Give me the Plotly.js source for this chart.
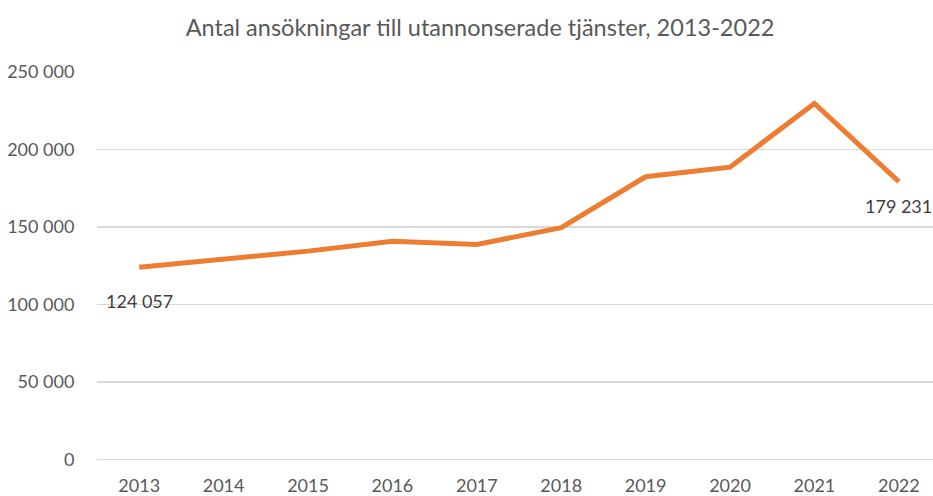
<!DOCTYPE html>
<html>
<head>
<meta charset="utf-8">
<script src="https://cdn.plot.ly/plotly-3.0.1.min.js"></script>
<style>html,body{margin:0;padding:0;background:#fff;}#chart{width:933px;height:496px;}</style>
</head>
<body>
<div id="chart"></div>
<script>
const years = ['2013','2014','2015','2016','2017','2018','2019','2020','2021','2022'];
const applications = [124057, 129000, 134400, 140800, 138700, 149500, 182400, 188600, 229700, 179231];
const yTickValues = [0, 50000, 100000, 150000, 200000, 250000];
const yTickLabels = ['0', '50 000', '100 000', '150 000', '200 000', '250 000'];
const titleText = 'Antal ansökningar till utannonserade tjänster, 2013-2022';
const labelTexts = ['124 057', '179 231'];

const FONT = 'Lato, "Open Sans", sans-serif';

const trace = {
  x: years,
  y: applications,
  type: 'scatter',
  mode: 'lines',
  line: {color: '#ED7D31', width: 5, shape: 'linear'},
  hoverinfo: 'skip',
  cliponaxis: false
};

const last = years.length - 1;
const annotations = [
  {xref: 'x', yref: 'y', x: 0, y: applications[0], text: labelTexts[0], showarrow: false,
   xanchor: 'center', yanchor: 'middle', yshift: -34,
   font: {family: FONT, size: 18, color: '#404040'}},
  {xref: 'x', yref: 'y', x: last, y: applications[last], text: labelTexts[1], showarrow: false,
   xanchor: 'center', yanchor: 'middle', yshift: -24,
   font: {family: FONT, size: 18, color: '#404040'}}
];

const layout = {
  width: 933, height: 496,
  margin: {l: 97, r: 0, t: 72, b: 36},
  paper_bgcolor: '#ffffff', plot_bgcolor: '#ffffff',
  showlegend: false,
  title: {text: titleText, x: 0.5145, xanchor: 'center', xref: 'container',
          y: 0.945, yanchor: 'middle', yref: 'container',
          font: {family: FONT, size: 23.5, color: '#595959'}},
  xaxis: {
    type: 'category',
    range: [-0.5, 9.405],
    showgrid: false, zeroline: false, showline: false,
    ticks: 'outside', ticklen: 9, tickcolor: 'rgba(0,0,0,0)',
    tickfont: {family: FONT, size: 18, color: '#595959'},
    fixedrange: true
  },
  yaxis: {
    range: [-400, 250000],
    tickvals: yTickValues, ticktext: yTickLabels,
    showgrid: true, gridcolor: '#D9D9D9', gridwidth: 1.5,
    zeroline: true, zerolinecolor: '#D9D9D9', zerolinewidth: 1.5,
    showline: false,
    ticks: 'outside', ticklen: 18, tickcolor: 'rgba(0,0,0,0)',
    tickfont: {family: FONT, size: 18, color: '#595959'},
    fixedrange: true
  },
  annotations: annotations
};

Plotly.newPlot('chart', [trace], layout, {displayModeBar: false, staticPlot: true});
</script>
</body>
</html>
